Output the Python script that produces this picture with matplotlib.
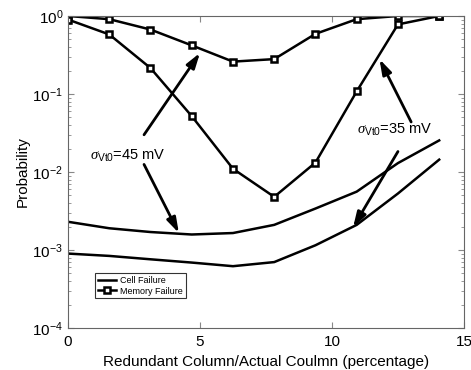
import matplotlib
matplotlib.use("Agg")
import matplotlib.pyplot as plt
import numpy as np

plt.rcParams['font.family'] = ['Liberation Sans', 'DejaVu Sans']
plt.rcParams['mathtext.fontset'] = 'custom'
plt.rcParams['mathtext.rm'] = 'Liberation Sans'
plt.rcParams['mathtext.it'] = 'Liberation Serif:italic'

x = [0, 1.5625, 3.125, 4.6875, 6.25, 7.8125, 9.375, 10.9375, 12.5, 14.0625]
mem_45 = [1.0, 0.91, 0.67, 0.42, 0.26, 0.28, 0.59, 0.91, 1.0, 1.0]
mem_35 = [0.90, 0.58, 0.215, 0.052, 0.011, 0.0048, 0.0132, 0.108, 0.78, 1.0]
cell_45 = [0.0023, 0.0019, 0.0017, 0.00158, 0.00165, 0.0021, 0.0034, 0.0056, 0.013, 0.0254]
cell_35 = [0.00090, 0.00084, 0.00076, 0.00069, 0.00062, 0.00070, 0.00115, 0.0021, 0.0053, 0.0144]

fig = plt.figure(figsize=(4.71, 3.70), dpi=100)
ax = fig.add_axes([0.1444, 0.1135, 0.8406, 0.8433])

lw = 1.8
ax.plot(x, cell_45, color='black', lw=lw, label='Cell Failure')
ax.plot(x, cell_35, color='black', lw=lw)
mk = dict(marker='s', ms=4.5, mfc='white', mec='black', mew=1.8)
ax.plot(x, mem_45, color='black', lw=lw, label='Memory Failure', **mk)
ax.plot(x, mem_35, color='black', lw=lw, **mk)

ax.set_yscale('log')
ax.set_xlim(0, 15)
ax.set_ylim(1e-4, 1)
ax.set_xticks([0, 5, 10, 15])
ax.set_yticks([1e-4, 1e-3, 1e-2, 1e-1, 1])
ax.tick_params(which='both', direction='in', top=True, right=True, labelsize=11, colors='black')
ax.tick_params(axis='x', pad=5)
ax.tick_params(which='major', length=4, color='#888888')
ax.tick_params(which='minor', length=2, color='#888888')
for s in ax.spines.values():
    s.set_color('#666666')
    s.set_linewidth(0.8)

ax.set_xlabel('Redundant Column/Actual Coulmn (percentage)', fontsize=11, labelpad=4)
ax.set_ylabel('Probability', fontsize=11, labelpad=2)

arrow = dict(arrowstyle='-|>,head_length=0.9,head_width=0.28', color='black', lw=2, shrinkA=0, shrinkB=0)
ax.annotate('', xy=(5.0, 0.42 * 0.8), xytext=(2.88, 0.030), arrowprops=arrow)
ax.annotate('', xy=(4.2, 0.00165), xytext=(2.88, 0.0125), arrowprops=arrow)
ax.annotate('', xy=(11.8, 0.28), xytext=(13.0, 0.0438), arrowprops=arrow)
ax.annotate('', xy=(10.8, 0.00195), xytext=(12.5, 0.0183), arrowprops=arrow)

ax.text(0.85, 0.0159, r'$\sigma_{\mathrm{Vt0}}$=45 mV', fontsize=10.5, va='center', ha='left')
ax.text(10.95, 0.0345, r'$\sigma_{\mathrm{Vt0}}$=35 mV', fontsize=10.5, va='center', ha='left')

leg = ax.legend(loc='lower left', bbox_to_anchor=(0.068, 0.095), fontsize=6.5, frameon=True,
                fancybox=False, edgecolor='black', handlelength=2.0, borderpad=0.3,
                labelspacing=0.2, handletextpad=0.5, borderaxespad=0)
leg.get_frame().set_linewidth(0.8)

fig.savefig('out.png', dpi=100)
